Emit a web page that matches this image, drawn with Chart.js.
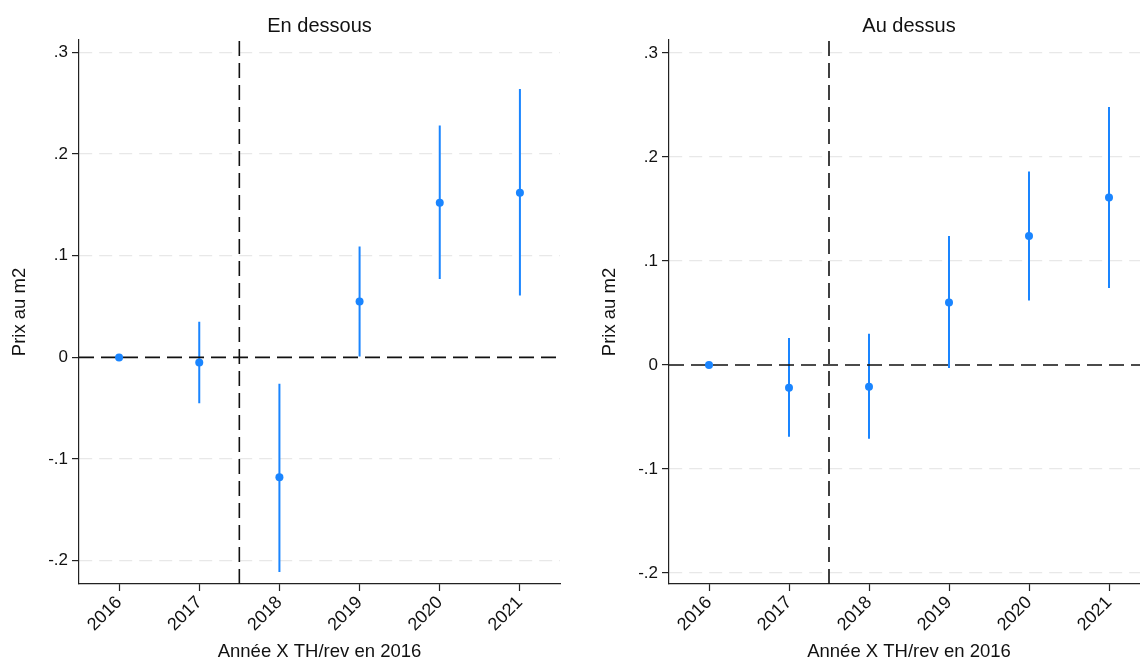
<!DOCTYPE html>
<html>
<head>
<meta charset="utf-8">
<script src="https://cdn.jsdelivr.net/npm/chart.js@4"></script>
<style>
  html, body { margin: 0; padding: 0; background: #fff; }
  #wrap { position: relative; width: 1140px; height: 662px; overflow: hidden; }
  .panel { position: absolute; top: 0; }
  #c-below { left: 0; }
  #c-above { left: 590px; }
</style>
</head>
<body>
<div id="wrap">
  <canvas id="c-below" class="panel" width="639" height="664"></canvas>
  <canvas id="c-above" class="panel" width="638" height="664"></canvas>
</div>
<script>
// ── DATA ──────────────────────────────────────────────────────
const years    = [2016, 2017, 2018, 2019, 2020, 2021];
const yTicks   = [-0.2, -0.1, 0, 0.1, 0.2, 0.3];
const cutYear  = 2017.5;

// "En dessous"
const belowCoef = [0, -0.005, -0.118, 0.055, 0.152, 0.162];
const belowLow  = [0, -0.045, -0.211, 0.001, 0.077, 0.061];
const belowHigh = [0,  0.035, -0.026, 0.109, 0.228, 0.264];
const belowRange = [-0.2229, 0.3122];

// "Au dessus"
const aboveCoef = [0, -0.022, -0.021, 0.060, 0.124, 0.161];
const aboveLow  = [0, -0.069, -0.071, -0.003, 0.062, 0.074];
const aboveHigh = [0,  0.026,  0.030, 0.124, 0.186, 0.248];
const aboveRange = [-0.2106, 0.3125];

// ── STYLE ─────────────────────────────────────────────────────
const BLUE = '#1a85ff';
const INK  = '#111';
const AXIS = '#222';
const FONT = "'Liberation Sans', Arial, sans-serif";

const fmtTick = v => {
  if (Math.abs(v) < 1e-9) return '0';
  return (v < 0 ? '-' : '') + '.' + Math.round(Math.abs(v) * 10);
};

// error bars as one broken line: lo -> hi, then a gap
function ciData(lo, hi) {
  const pts = [];
  years.forEach((yr, i) => {
    if (lo[i] === hi[i]) return;
    pts.push({ x: yr, y: lo[i] }, { x: yr, y: hi[i] }, { x: yr, y: null });
  });
  return pts;
}

function makePanel(id, title, coef, lo, hi, range) {
  const [yMin, yMax] = range;
  return new Chart(document.getElementById(id), {
    type: 'line',
    data: {
      datasets: [
        { label: 'coef', data: years.map((yr, i) => ({ x: yr, y: coef[i] })),
          showLine: false, pointRadius: 4, pointHoverRadius: 4,
          pointBackgroundColor: BLUE, pointBorderColor: BLUE, pointBorderWidth: 0 },
        { label: 'zero', data: [{ x: 2015.5, y: 0 }, { x: 2021.5, y: 0 }],
          borderColor: INK, borderWidth: 1.6, borderDash: [15, 7], pointRadius: 0 },
        { label: 'cut', data: [{ x: cutYear, y: yMin }, { x: cutYear, y: yMax }],
          borderColor: INK, borderWidth: 1.6, borderDash: [15, 7], pointRadius: 0 },
        { label: 'ci', data: ciData(lo, hi),
          borderColor: BLUE, borderWidth: 2, pointRadius: 0, spanGaps: false },
      ],
    },
    options: {
      responsive: false, animation: false,
      layout: { padding: 0 },
      plugins: {
        legend: { display: false },
        tooltip: { enabled: false },
        title: {
          display: true, text: title, color: INK,
          font: { family: FONT, size: 20, weight: 'normal' },
          padding: { top: 14.5, bottom: 1.5 },
        },
      },
      scales: {
        x: {
          type: 'linear', min: 2015.5, max: 2021.5,
          afterBuildTicks: s => { s.ticks = years.map(v => ({ value: v })); },
          ticks: {
            autoSkip: false, minRotation: 45, maxRotation: 45, padding: 1,
            color: INK, font: { family: FONT, size: 18 },
            callback: v => String(v),
          },
          grid: { drawOnChartArea: false, tickLength: 7, tickColor: AXIS, tickWidth: 1.2 },
          border: { color: AXIS, width: 1.2 },
          title: {
            display: true, text: 'Année X TH/rev en 2016', color: INK,
            font: { family: FONT, size: 18.5 }, padding: { top: 0, bottom: 1 },
          },
          afterFit: s => { s.height = 80; },
        },
        y: {
          type: 'linear', min: yMin, max: yMax,
          afterBuildTicks: s => { s.ticks = yTicks.map(v => ({ value: v })); },
          ticks: { padding: 4, color: INK, font: { family: FONT, size: 17 }, callback: fmtTick },
          grid: {
            color: c => (c.tick && Math.abs(c.tick.value) < 1e-9) ? 'rgba(0,0,0,0)' : '#e8e8e8',
            lineWidth: 1.2, tickLength: 7, tickColor: AXIS, tickWidth: 1.2,
          },
          border: { color: AXIS, width: 1.2, dash: [13, 7] },
          title: {
            display: true, text: 'Prix au m2', color: INK,
            font: { family: FONT, size: 18.5 }, padding: { top: 9, bottom: 0 },
          },
          afterFit: s => { s.width = 79; },
        },
        // empty spacer on the right so the title centres on the plot
        yr: {
          type: 'linear', position: 'right', display: true,
          ticks: { display: false }, grid: { display: false }, border: { display: false },
          afterFit: s => { s.width = 79; },
        },
      },
    },
  });
}

makePanel('c-below', 'En dessous', belowCoef, belowLow, belowHigh, belowRange);
makePanel('c-above', 'Au dessus',  aboveCoef, aboveLow, aboveHigh, aboveRange);
</script>
</body>
</html>
